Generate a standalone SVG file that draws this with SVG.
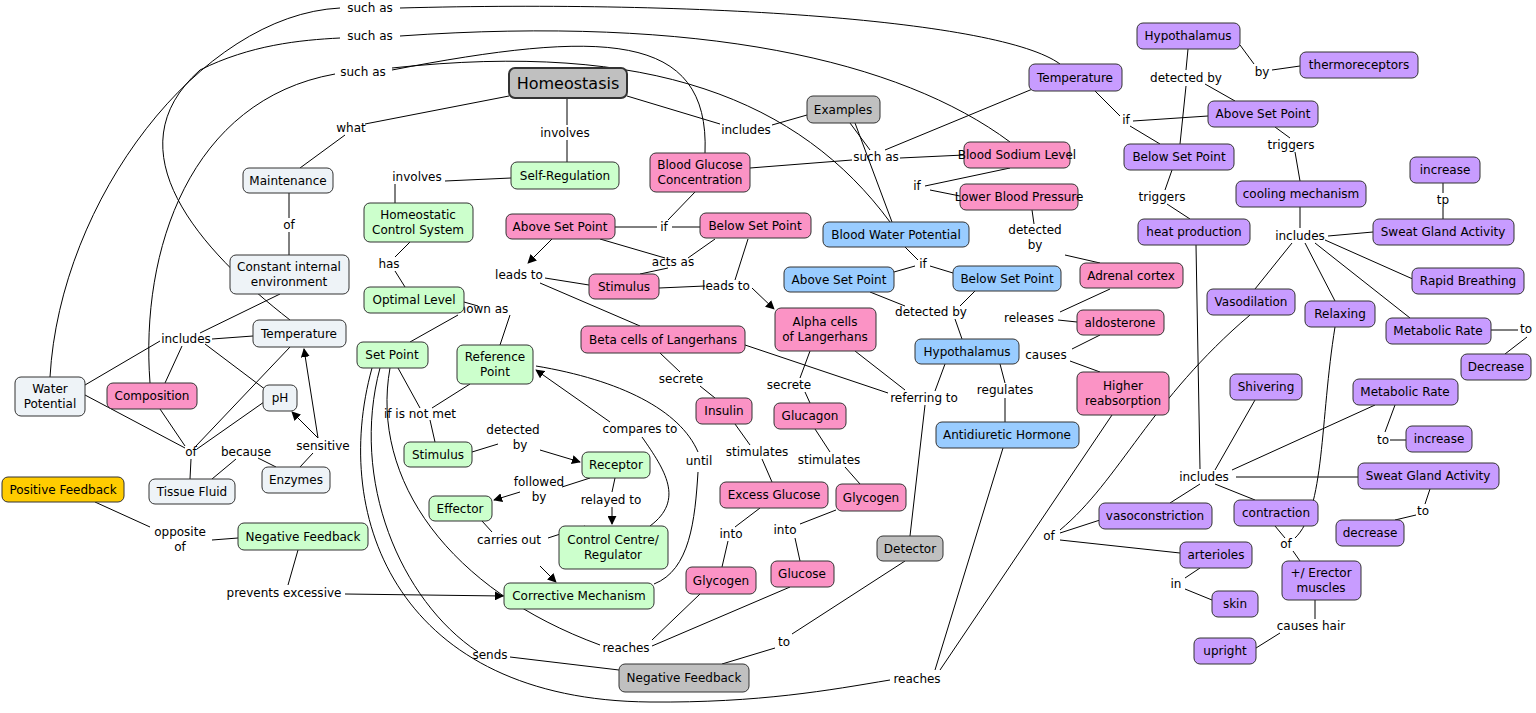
<svg xmlns="http://www.w3.org/2000/svg" width="1536" height="713" viewBox="0 0 1536 713">
<defs>
<marker id="ar" viewBox="0 0 10 10" refX="9" refY="5" markerWidth="9" markerHeight="9" orient="auto"><path d="M0,0L10,5L0,10z" fill="#000"/></marker>
<style>
rect{stroke:#333;stroke-width:1;rx:6}
text{font-family:"DejaVu Sans",Verdana,sans-serif;font-size:12px;fill:#000;text-anchor:middle}
.g{fill:#c0c0c0}.p{fill:#fb93c5}.n{fill:#ccffcc}.b{fill:#99ccff}.v{fill:#c89cff}.l{fill:#eef3f7}.y{fill:#ffcc00}
#conn line,#conn path{stroke:#000;stroke-width:1;fill:none}
.a{marker-end:url(#ar)}
</style>
</defs>
<rect x="0" y="0" width="1536" height="713" style="fill:#fff;stroke:none"/>
<g id="conn">
<path d="M50,377 C60,200 200,15 340,8"/><path d="M400,8 C700,0 1000,20 1060,64"/>
<path d="M290,320 C200,250 110,150 200,70 C250,45 300,40 340,38"/><path d="M400,36 C700,15 900,60 1010,142"/>
<path d="M150,383 C140,250 190,100 335,74"/><path d="M392,70 C600,30 710,30 705,153"/><path d="M392,68 C650,40 800,100 890,222"/>
<line x1="509" y1="96" x2="365" y2="124"/><line x1="345" y1="135" x2="300" y2="168"/>
<line x1="567" y1="98" x2="567" y2="125"/><line x1="567" y1="140" x2="567" y2="162"/>
<line x1="627" y1="96" x2="720" y2="124"/><line x1="772" y1="125" x2="807" y2="115"/>
<line x1="850" y1="123" x2="870" y2="150"/><line x1="855" y1="123" x2="892" y2="222"/>
<line x1="852" y1="160" x2="750" y2="168"/><line x1="900" y1="158" x2="964" y2="155"/><line x1="885" y1="150" x2="1035" y2="88"/>
<line x1="511" y1="178" x2="445" y2="181"/><line x1="395" y1="184" x2="395" y2="203"/>
<line x1="289" y1="193" x2="289" y2="218"/><line x1="289" y1="232" x2="289" y2="255"/>
<line x1="410" y1="242" x2="395" y2="257"/><line x1="395" y1="271" x2="405" y2="287"/>
<line x1="695" y1="192" x2="668" y2="220"/><line x1="657" y1="227" x2="615" y2="227"/><line x1="672" y1="227" x2="700" y2="227"/>
<line class="a" x1="552" y1="239" x2="528" y2="263"/>
<line x1="589" y1="285" x2="545" y2="278"/><line x1="540" y1="283" x2="640" y2="326"/>
<line x1="600" y1="239" x2="665" y2="258"/><line x1="715" y1="239" x2="688" y2="258"/><line x1="668" y1="268" x2="640" y2="274"/>
<line x1="659" y1="288" x2="705" y2="286"/><line class="a" x1="752" y1="288" x2="774" y2="309"/>
<line x1="748" y1="239" x2="735" y2="280"/>
<line x1="464" y1="302" x2="478" y2="306"/><line x1="458" y1="315" x2="410" y2="342"/><line x1="510" y1="315" x2="500" y2="345"/>
<line x1="398" y1="368" x2="420" y2="408"/><line x1="470" y1="384" x2="432" y2="408"/><line x1="430" y1="420" x2="435" y2="442"/>
<line x1="472" y1="452" x2="498" y2="444"/><line class="a" x1="540" y1="450" x2="580" y2="462"/>
<line x1="590" y1="478" x2="562" y2="487"/><line class="a" x1="520" y1="492" x2="494" y2="500"/>
<line x1="615" y1="478" x2="612" y2="492"/><line class="a" x1="612" y1="507" x2="612" y2="524"/>
<path d="M650,526 C685,500 665,470 642,437"/><line class="a" x1="610" y1="422" x2="536" y2="370"/>
<line x1="585" y1="526" x2="548" y2="538"/><line x1="482" y1="521" x2="492" y2="532"/><line class="a" x1="540" y1="566" x2="556" y2="582"/>
<path d="M654,584 C690,570 695,520 698,472"/><path d="M698,452 C680,410 620,380 536,366"/>
<line x1="238" y1="538" x2="212" y2="540"/><line x1="150" y1="527" x2="95" y2="502"/>
<line x1="298" y1="550" x2="288" y2="585"/><line class="a" x1="345" y1="594" x2="503" y2="596"/>
<path d="M390,368 C370,480 450,590 600,645"/><line x1="700" y1="594" x2="652" y2="640"/><line x1="790" y1="587" x2="652" y2="646"/>
<path d="M380,368 C350,480 400,600 478,652"/><line x1="510" y1="657" x2="619" y2="670"/>
<line x1="905" y1="561" x2="792" y2="634"/><line x1="775" y1="648" x2="722" y2="664"/>
<path d="M372,368 C330,520 400,700 650,702 C760,703 830,690 890,680"/><line x1="935" y1="670" x2="1003" y2="448"/><line x1="940" y1="670" x2="1112" y2="415"/>
<line x1="660" y1="353" x2="680" y2="372"/><line x1="700" y1="386" x2="715" y2="398"/>
<line x1="810" y1="351" x2="800" y2="378"/><line x1="805" y1="392" x2="810" y2="403"/>
<line x1="745" y1="345" x2="888" y2="393"/><line x1="855" y1="351" x2="905" y2="390"/><line x1="925" y1="405" x2="910" y2="536"/><line x1="945" y1="364" x2="935" y2="391"/>
<line x1="735" y1="424" x2="750" y2="445"/><line x1="762" y1="459" x2="772" y2="482"/>
<line x1="815" y1="429" x2="830" y2="452"/><line x1="845" y1="467" x2="860" y2="484"/>
<line x1="760" y1="508" x2="735" y2="527"/><line x1="728" y1="541" x2="722" y2="567"/>
<line x1="836" y1="510" x2="800" y2="524"/><line x1="795" y1="538" x2="800" y2="561"/>
<line x1="1010" y1="168" x2="925" y2="186"/><line x1="930" y1="190" x2="960" y2="196"/>
<line x1="1032" y1="210" x2="1034" y2="224"/><line x1="1065" y1="255" x2="1100" y2="263"/>
<line x1="1110" y1="289" x2="1060" y2="312"/><line x1="1058" y1="320" x2="1077" y2="322"/>
<line x1="1100" y1="335" x2="1072" y2="349"/><line x1="1070" y1="361" x2="1100" y2="372"/>
<line x1="905" y1="247" x2="918" y2="260"/><line x1="915" y1="266" x2="894" y2="272"/><line x1="930" y1="266" x2="953" y2="273"/>
<line x1="870" y1="292" x2="905" y2="306"/><line x1="975" y1="291" x2="960" y2="306"/><line x1="955" y1="319" x2="962" y2="339"/>
<line x1="1000" y1="364" x2="1005" y2="383"/><line x1="1005" y1="398" x2="1005" y2="422"/>
<line x1="280" y1="294" x2="200" y2="333"/><line x1="160" y1="341" x2="85" y2="385"/><line x1="212" y1="339" x2="253" y2="336"/><line x1="205" y1="344" x2="266" y2="390"/><line x1="182" y1="346" x2="165" y2="383"/>
<line x1="85" y1="395" x2="185" y2="448"/><line x1="160" y1="409" x2="185" y2="446"/><line x1="290" y1="347" x2="196" y2="446"/><line x1="264" y1="402" x2="197" y2="449"/><line x1="191" y1="459" x2="190" y2="479"/>
<line x1="212" y1="479" x2="236" y2="459"/><line x1="258" y1="458" x2="276" y2="467"/>
<line x1="300" y1="467" x2="313" y2="453"/><line class="a" x1="318" y1="438" x2="292" y2="412"/><line class="a" x1="318" y1="438" x2="304" y2="349"/>
<line x1="1095" y1="91" x2="1120" y2="116"/><line x1="1133" y1="121" x2="1208" y2="116"/><line x1="1130" y1="126" x2="1160" y2="144"/>
<line x1="1188" y1="49" x2="1186" y2="70"/><line x1="1186" y1="86" x2="1180" y2="144"/><line x1="1205" y1="84" x2="1235" y2="101"/>
<line x1="1240" y1="45" x2="1254" y2="64"/><line x1="1272" y1="70" x2="1300" y2="66"/>
<line x1="1275" y1="127" x2="1290" y2="138"/><line x1="1295" y1="152" x2="1300" y2="181"/>
<line x1="1172" y1="170" x2="1165" y2="190"/><line x1="1167" y1="204" x2="1190" y2="219"/>
<line x1="1300" y1="207" x2="1300" y2="228"/><line x1="1328" y1="236" x2="1373" y2="232"/><line x1="1292" y1="243" x2="1255" y2="289"/><line x1="1305" y1="243" x2="1335" y2="301"/><line x1="1325" y1="240" x2="1415" y2="280"/><line x1="1315" y1="243" x2="1410" y2="318"/>
<line x1="1443" y1="219" x2="1443" y2="207"/><line x1="1443" y1="193" x2="1443" y2="183"/>
<line x1="1491" y1="330" x2="1518" y2="330"/><line x1="1527" y1="337" x2="1505" y2="354"/>
<line x1="1196" y1="245" x2="1200" y2="469"/><line x1="1215" y1="470" x2="1255" y2="400"/><line x1="1232" y1="470" x2="1375" y2="405"/><line x1="1236" y1="477" x2="1358" y2="477"/><line x1="1200" y1="484" x2="1170" y2="503"/><line x1="1215" y1="484" x2="1255" y2="500"/>
<line x1="1395" y1="405" x2="1385" y2="432"/><line x1="1390" y1="440" x2="1406" y2="440"/>
<line x1="1430" y1="489" x2="1425" y2="504"/><line x1="1416" y1="515" x2="1395" y2="520"/>
<path d="M1250,315 C1150,400 1120,480 1060,530"/><line x1="1100" y1="520" x2="1060" y2="533"/><line x1="1060" y1="540" x2="1180" y2="553"/>
<line x1="1200" y1="568" x2="1185" y2="578"/><line x1="1185" y1="589" x2="1212" y2="600"/>
<line x1="1275" y1="526" x2="1285" y2="538"/><path d="M1335,327 C1320,420 1325,510 1295,538"/><line x1="1293" y1="551" x2="1300" y2="561"/>
<line x1="1315" y1="600" x2="1315" y2="619"/><line x1="1280" y1="633" x2="1256" y2="648"/>
</g>
<g id="labels">
<text x="370" y="12">such as</text><text x="370" y="40">such as</text><text x="363" y="76">such as</text>
<text x="351" y="132">what</text><text x="565" y="137">involves</text><text x="746" y="134">includes</text><text x="876" y="161">such as</text>
<text x="417" y="181">involves</text><text x="289" y="229">of</text><text x="664" y="231">if</text><text x="917" y="190">if</text><text x="1126" y="124">if</text>
<text x="1186" y="82">detected by</text><text x="1262" y="76">by</text><text x="1291" y="149">triggers</text><text x="1162" y="201">triggers</text>
<text x="1035" y="234">detected</text><text x="1035" y="249">by</text><text x="923" y="268">if</text><text x="1300" y="240">includes</text><text x="1443" y="204">tp</text>
<text x="389" y="268">has</text><text x="519" y="279">leads to</text><text x="673" y="266">acts as</text><text x="726" y="290">leads to</text><text x="480" y="313">known as</text>
<text x="1029" y="322">releases</text><text x="931" y="316">detected by</text><text x="1046" y="359">causes</text><text x="1526" y="333">to</text>
<text x="186" y="343">includes</text><text x="681" y="383">secrete</text><text x="789" y="389">secrete</text><text x="924" y="402">referring to</text><text x="1005" y="394">regulates</text>
<text x="420" y="418">if is not met</text><text x="513" y="434">detected</text><text x="520" y="449">by</text><text x="640" y="433">compares to</text>
<text x="323" y="450">sensitive</text><text x="246" y="456">because</text><text x="191" y="456">of</text><text x="757" y="456">stimulates</text><text x="829" y="464">stimulates</text><text x="699" y="465">until</text>
<text x="539" y="486">followed</text><text x="539" y="501">by</text><text x="611" y="504">relayed to</text><text x="180" y="536">opposite</text><text x="180" y="551">of</text>
<text x="509" y="544">carries out</text><text x="731" y="538">into</text><text x="785" y="534">into</text><text x="1204" y="481">includes</text><text x="1383" y="444">to</text><text x="1423" y="515">to</text>
<text x="1049" y="540">of</text><text x="1286" y="548">of</text><text x="1176" y="588">in</text><text x="284" y="597">prevents excessive</text>
<text x="626" y="652">reaches</text><text x="784" y="646">to</text><text x="490" y="659">sends</text><text x="1311" y="630">causes hair</text><text x="917" y="683">reaches</text>
</g>
<g id="n1"><rect class="g" x="509" y="68" width="118" height="30" style="stroke-width:2"/><text x="568" y="89" style="font-size:16px">Homeostasis</text></g>
<g id="n2"><rect class="g" x="807" y="96" width="73" height="27"/><text x="843" y="114">Examples</text></g>
<g id="n3"><rect class="n" x="511" y="162" width="108" height="27"/><text x="565" y="180">Self-Regulation</text></g>
<g id="n4"><rect class="p" x="650" y="153" width="100" height="39"/><text x="700" y="169">Blood Glucose</text><text x="700" y="184">Concentration</text></g>
<g id="n5"><rect class="p" x="964" y="142" width="106" height="26"/><text x="1017" y="159">Blood Sodium Level</text></g>
<g id="n6"><rect class="p" x="960" y="184" width="118" height="26"/><text x="1019" y="201">Lower Blood Pressure</text></g>
<g id="n7"><rect class="l" x="243" y="168" width="90" height="25"/><text x="288" y="185">Maintenance</text></g>
<g id="n8"><rect class="n" x="364" y="203" width="109" height="39"/><text x="418" y="219">Homeostatic</text><text x="418" y="234">Control System</text></g>
<g id="n9"><rect class="p" x="506" y="214" width="109" height="25"/><text x="560" y="231">Above Set Point</text></g>
<g id="n10"><rect class="p" x="700" y="213" width="111" height="25"/><text x="755" y="230">Below Set Point</text></g>
<g id="n11"><rect class="b" x="823" y="222" width="146" height="25"/><text x="896" y="239">Blood Water Potential</text></g>
<g id="n12"><rect class="l" x="230" y="255" width="119" height="39"/><text x="289" y="271">Constant internal</text><text x="289" y="286">environment</text></g>
<g id="n13"><rect class="n" x="364" y="287" width="100" height="26"/><text x="414" y="304">Optimal Level</text></g>
<g id="n14"><rect class="p" x="589" y="274" width="70" height="25"/><text x="624" y="291">Stimulus</text></g>
<g id="n15"><rect class="b" x="784" y="267" width="110" height="25"/><text x="839" y="284">Above Set Point</text></g>
<g id="n16"><rect class="b" x="953" y="266" width="108" height="25"/><text x="1007" y="283">Below Set Point</text></g>
<g id="n17"><rect class="p" x="1080" y="263" width="103" height="25"/><text x="1131" y="280">Adrenal cortex</text></g>
<g id="n18"><rect class="p" x="775" y="308" width="101" height="43"/><text x="825" y="326">Alpha cells</text><text x="825" y="341">of Langerhans</text></g>
<g id="n19"><rect class="p" x="581" y="326" width="164" height="27"/><text x="663" y="344">Beta cells of Langerhans</text></g>
<g id="n20"><rect class="p" x="1077" y="310" width="87" height="25"/><text x="1120" y="327">aldosterone</text></g>
<g id="n21"><rect class="l" x="253" y="320" width="93" height="27"/><text x="299" y="338">Temperature</text></g>
<g id="n22"><rect class="n" x="357" y="342" width="71" height="26"/><text x="392" y="359">Set Point</text></g>
<g id="n23"><rect class="n" x="457" y="345" width="76" height="39"/><text x="495" y="361">Reference</text><text x="495" y="376">Point</text></g>
<g id="n24"><rect class="b" x="915" y="339" width="104" height="25"/><text x="967" y="356">Hypothalamus</text></g>
<g id="n25"><rect class="p" x="1077" y="372" width="92" height="43"/><text x="1123" y="390">Higher</text><text x="1123" y="405">reabsorption</text></g>
<g id="n26"><rect class="l" x="15" y="377" width="70" height="39"/><text x="50" y="393">Water</text><text x="50" y="408">Potential</text></g>
<g id="n27"><rect class="p" x="107" y="383" width="90" height="26"/><text x="152" y="400">Composition</text></g>
<g id="n28"><rect class="l" x="263" y="385" width="34" height="26"/><text x="280" y="402">pH</text></g>
<g id="n29"><rect class="p" x="696" y="398" width="56" height="26"/><text x="724" y="415">Insulin</text></g>
<g id="n30"><rect class="p" x="774" y="403" width="72" height="26"/><text x="810" y="420">Glucagon</text></g>
<g id="n31"><rect class="b" x="936" y="422" width="143" height="26"/><text x="1007" y="439">Antidiuretic Hormone</text></g>
<g id="n32"><rect class="n" x="404" y="442" width="68" height="25"/><text x="438" y="459">Stimulus</text></g>
<g id="n33"><rect class="n" x="582" y="452" width="68" height="26"/><text x="616" y="469">Receptor</text></g>
<g id="n34"><rect class="l" x="262" y="467" width="68" height="26"/><text x="296" y="484">Enzymes</text></g>
<g id="n35"><rect class="l" x="149" y="479" width="86" height="25"/><text x="192" y="496">Tissue Fluid</text></g>
<g id="n36"><rect class="y" x="2" y="477" width="122" height="25"/><text x="63" y="494">Positive Feedback</text></g>
<g id="n37"><rect class="p" x="720" y="482" width="108" height="26"/><text x="774" y="499">Excess Glucose</text></g>
<g id="n38"><rect class="p" x="836" y="484" width="70" height="27"/><text x="871" y="502">Glycogen</text></g>
<g id="n39"><rect class="n" x="429" y="496" width="63" height="25"/><text x="460" y="513">Effector</text></g>
<g id="n40"><rect class="n" x="238" y="523" width="130" height="27"/><text x="303" y="541">Negative Feedback</text></g>
<g id="n41"><rect class="n" x="559" y="526" width="109" height="43"/><text x="613" y="544">Control Centre/</text><text x="613" y="559">Regulator</text></g>
<g id="n42"><rect class="g" x="877" y="536" width="66" height="25"/><text x="910" y="553">Detector</text></g>
<g id="n43"><rect class="p" x="686" y="567" width="70" height="27"/><text x="721" y="585">Glycogen</text></g>
<g id="n44"><rect class="p" x="771" y="561" width="63" height="26"/><text x="802" y="578">Glucose</text></g>
<g id="n45"><rect class="n" x="504" y="583" width="150" height="26"/><text x="579" y="600">Corrective Mechanism</text></g>
<g id="n46"><rect class="g" x="619" y="664" width="130" height="28"/><text x="684" y="682">Negative Feedback</text></g>
<g id="n47"><rect class="v" x="1137" y="23" width="103" height="26"/><text x="1188" y="40">Hypothalamus</text></g>
<g id="n48"><rect class="v" x="1300" y="52" width="118" height="26"/><text x="1359" y="69">thermoreceptors</text></g>
<g id="n49"><rect class="v" x="1029" y="64" width="93" height="27"/><text x="1075" y="82">Temperature</text></g>
<g id="n50"><rect class="v" x="1208" y="101" width="110" height="26"/><text x="1263" y="118">Above Set Point</text></g>
<g id="n51"><rect class="v" x="1124" y="144" width="110" height="26"/><text x="1179" y="161">Below Set Point</text></g>
<g id="n52"><rect class="v" x="1236" y="181" width="130" height="26"/><text x="1301" y="198">cooling mechanism</text></g>
<g id="n53"><rect class="v" x="1410" y="157" width="70" height="26"/><text x="1445" y="174">increase</text></g>
<g id="n54"><rect class="v" x="1138" y="219" width="112" height="26"/><text x="1194" y="236">heat production</text></g>
<g id="n55"><rect class="v" x="1373" y="219" width="141" height="26"/><text x="1443" y="236">Sweat Gland Activity</text></g>
<g id="n56"><rect class="v" x="1412" y="268" width="112" height="26"/><text x="1468" y="285">Rapid Breathing</text></g>
<g id="n57"><rect class="v" x="1207" y="289" width="88" height="26"/><text x="1251" y="306">Vasodilation</text></g>
<g id="n58"><rect class="v" x="1305" y="301" width="70" height="26"/><text x="1340" y="318">Relaxing</text></g>
<g id="n59"><rect class="v" x="1386" y="318" width="105" height="26"/><text x="1438" y="335">Metabolic Rate</text></g>
<g id="n60"><rect class="v" x="1461" y="354" width="70" height="26"/><text x="1496" y="371">Decrease</text></g>
<g id="n61"><rect class="v" x="1230" y="374" width="72" height="26"/><text x="1266" y="391">Shivering</text></g>
<g id="n62"><rect class="v" x="1353" y="379" width="105" height="26"/><text x="1405" y="396">Metabolic Rate</text></g>
<g id="n63"><rect class="v" x="1406" y="426" width="66" height="26"/><text x="1439" y="443">increase</text></g>
<g id="n64"><rect class="v" x="1358" y="463" width="141" height="26"/><text x="1428" y="480">Sweat Gland Activity</text></g>
<g id="n65"><rect class="v" x="1099" y="503" width="113" height="26"/><text x="1155" y="520">vasoconstriction</text></g>
<g id="n66"><rect class="v" x="1234" y="500" width="84" height="26"/><text x="1276" y="517">contraction</text></g>
<g id="n67"><rect class="v" x="1336" y="520" width="68" height="26"/><text x="1370" y="537">decrease</text></g>
<g id="n68"><rect class="v" x="1180" y="542" width="72" height="26"/><text x="1216" y="559">arterioles</text></g>
<g id="n69"><rect class="v" x="1282" y="561" width="79" height="39"/><text x="1321" y="577">+/ Erector</text><text x="1321" y="592">muscles</text></g>
<g id="n70"><rect class="v" x="1212" y="591" width="46" height="26"/><text x="1235" y="608">skin</text></g>
<g id="n71"><rect class="v" x="1194" y="638" width="62" height="26"/><text x="1225" y="655">upright</text></g>
</svg>
